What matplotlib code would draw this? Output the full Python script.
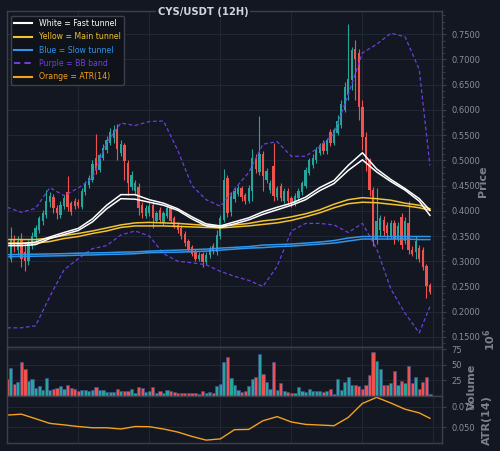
import numpy as np
import matplotlib.pyplot as plt
from matplotlib.lines import Line2D
from matplotlib.ticker import MultipleLocator, AutoMinorLocator, FormatStrFormatter

# candles (12H)
opens = [0.340, 0.305, 0.345, 0.322, 0.342, 0.318, 0.300, 0.330, 0.348, 0.362,
         0.380, 0.392, 0.418, 0.428, 0.405, 0.392, 0.410, 0.438, 0.415, 0.420,
         0.418, 0.408, 0.438, 0.452, 0.462, 0.505, 0.480, 0.505, 0.520, 0.535,
         0.545, 0.562, 0.515, 0.530, 0.495, 0.448, 0.440, 0.448, 0.412, 0.390,
         0.395, 0.412, 0.380, 0.402, 0.378, 0.390, 0.405, 0.385, 0.372, 0.366,
         0.354, 0.340, 0.328, 0.318, 0.304, 0.314, 0.298, 0.312, 0.330, 0.318,
         0.350, 0.382, 0.465, 0.398, 0.424, 0.434, 0.446, 0.432, 0.420, 0.440,
         0.505, 0.476, 0.512, 0.462, 0.442, 0.488, 0.428, 0.450, 0.420, 0.440,
         0.425, 0.415, 0.425, 0.438, 0.450, 0.475, 0.490, 0.500, 0.515, 0.535,
         0.518, 0.556, 0.535, 0.555, 0.570, 0.600, 0.630, 0.660, 0.720, 0.712,
         0.605, 0.546, 0.500, 0.442, 0.342, 0.362, 0.382, 0.372, 0.350, 0.376,
         0.345, 0.388, 0.340, 0.375, 0.322, 0.318, 0.326, 0.322, 0.290, 0.252]
highs = [0.352, 0.368, 0.352, 0.350, 0.356, 0.338, 0.342, 0.358, 0.372, 0.390,
         0.402, 0.442, 0.438, 0.434, 0.412, 0.420, 0.432, 0.468, 0.420, 0.426,
         0.424, 0.445, 0.460, 0.470, 0.500, 0.553, 0.515, 0.532, 0.548, 0.565,
         0.570, 0.572, 0.540, 0.535, 0.500, 0.478, 0.462, 0.456, 0.418, 0.412,
         0.418, 0.418, 0.400, 0.408, 0.400, 0.412, 0.410, 0.390, 0.378, 0.372,
         0.360, 0.345, 0.333, 0.324, 0.318, 0.318, 0.318, 0.330, 0.336, 0.362,
         0.392, 0.482, 0.470, 0.438, 0.448, 0.452, 0.450, 0.436, 0.452, 0.522,
         0.512, 0.588, 0.518, 0.485, 0.462, 0.534, 0.450, 0.455, 0.445, 0.445,
         0.430, 0.436, 0.446, 0.460, 0.486, 0.505, 0.512, 0.526, 0.535, 0.540,
         0.545, 0.562, 0.565, 0.590, 0.620, 0.655, 0.770, 0.725, 0.738, 0.720,
         0.620, 0.556, 0.505, 0.448, 0.445, 0.392, 0.390, 0.378, 0.382, 0.382,
         0.378, 0.395, 0.388, 0.420, 0.330, 0.350, 0.332, 0.328, 0.295, 0.256]
lows = [0.305, 0.298, 0.318, 0.312, 0.288, 0.280, 0.292, 0.324, 0.340, 0.355,
        0.372, 0.386, 0.408, 0.396, 0.384, 0.386, 0.404, 0.400, 0.392, 0.404,
        0.405, 0.404, 0.432, 0.446, 0.458, 0.472, 0.476, 0.500, 0.515, 0.530,
        0.535, 0.500, 0.508, 0.462, 0.432, 0.442, 0.432, 0.392, 0.386, 0.385,
        0.390, 0.365, 0.375, 0.375, 0.372, 0.386, 0.376, 0.365, 0.355, 0.345,
        0.330, 0.318, 0.310, 0.300, 0.300, 0.288, 0.292, 0.306, 0.314, 0.312,
        0.345, 0.378, 0.388, 0.390, 0.418, 0.430, 0.420, 0.414, 0.416, 0.420,
        0.474, 0.470, 0.440, 0.455, 0.436, 0.420, 0.422, 0.420, 0.415, 0.414,
        0.408, 0.410, 0.420, 0.432, 0.446, 0.470, 0.485, 0.495, 0.510, 0.512,
        0.512, 0.528, 0.530, 0.550, 0.565, 0.595, 0.620, 0.640, 0.620, 0.580,
        0.520, 0.478, 0.430, 0.330, 0.335, 0.350, 0.350, 0.345, 0.345, 0.335,
        0.340, 0.325, 0.335, 0.315, 0.310, 0.305, 0.298, 0.282, 0.228, 0.236]
closes = [0.318, 0.345, 0.330, 0.340, 0.305, 0.300, 0.335, 0.350, 0.365, 0.385,
          0.395, 0.420, 0.430, 0.405, 0.395, 0.412, 0.425, 0.408, 0.398, 0.410,
          0.410, 0.440, 0.455, 0.465, 0.492, 0.480, 0.510, 0.525, 0.540, 0.556,
          0.560, 0.522, 0.532, 0.498, 0.455, 0.470, 0.455, 0.405, 0.395, 0.405,
          0.410, 0.385, 0.395, 0.382, 0.395, 0.405, 0.380, 0.370, 0.362, 0.350,
          0.336, 0.325, 0.315, 0.305, 0.312, 0.298, 0.312, 0.325, 0.320, 0.352,
          0.385, 0.462, 0.395, 0.430, 0.440, 0.446, 0.428, 0.420, 0.446, 0.505,
          0.482, 0.512, 0.468, 0.478, 0.456, 0.430, 0.445, 0.425, 0.440, 0.420,
          0.415, 0.430, 0.440, 0.455, 0.480, 0.500, 0.505, 0.520, 0.530, 0.518,
          0.540, 0.535, 0.560, 0.578, 0.612, 0.646, 0.662, 0.718, 0.700, 0.605,
          0.546, 0.500, 0.442, 0.340, 0.380, 0.385, 0.360, 0.355, 0.375, 0.345,
          0.370, 0.332, 0.380, 0.322, 0.315, 0.340, 0.305, 0.288, 0.250, 0.240]
volume = [27, 45, 19, 23, 54, 43, 24.5, 27, 13, 16.5,
          10, 29, 9, 12, 13, 15.5, 12, 18, 13, 11,
          7.5, 10, 10, 8.6, 9, 14.5, 10, 9, 6.5, 6.5,
          6.5, 11, 7.5, 7.5, 7.5, 11, 5, 14, 13, 6,
          7.5, 14, 5, 7.5, 5, 9, 7.5, 6, 5, 5,
          5, 4.3, 4.3, 4.3, 3, 7.5, 4.3, 6, 4.3, 15.5,
          19.7, 55, 62, 29, 18, 9, 6, 7.5, 15.5, 27,
          30, 67, 35, 23, 11, 54, 10, 21, 7.5, 6,
          5, 4, 14, 7.5, 6, 11, 7.5, 7.5, 7.5, 6.5,
          7.5, 12, 3, 27, 9, 22, 30, 17, 17, 15.5,
          11, 17, 34, 70, 57, 43, 17, 18, 21, 40,
          17, 24.5, 21, 48, 21, 31, 11, 23, 30, 3]

# indicator lines, read every 4th candle
line_idx = [0, 4, 8, 12, 16, 20, 24, 28, 32, 36, 40, 44, 48, 52, 56, 60,
            64, 68, 72, 76, 80, 84, 88, 92, 96, 100, 104, 108, 112, 116, 119]
fast_hi = [0.335, 0.335, 0.338, 0.348, 0.357, 0.365, 0.384, 0.411, 0.432, 0.432, 0.422,
           0.415, 0.404, 0.388, 0.374, 0.370, 0.378, 0.386, 0.398, 0.407, 0.415,
           0.427, 0.446, 0.460, 0.490, 0.515, 0.483, 0.462, 0.444, 0.424, 0.401]
fast_lo = [0.331, 0.331, 0.333, 0.345, 0.353, 0.361, 0.378, 0.404, 0.424, 0.423, 0.417,
           0.411, 0.401, 0.384, 0.370, 0.367, 0.374, 0.382, 0.393, 0.402, 0.411,
           0.422, 0.440, 0.454, 0.480, 0.501, 0.477, 0.458, 0.441, 0.419, 0.391]
main_hi = [0.343, 0.343, 0.343, 0.346, 0.351, 0.355, 0.360, 0.366, 0.372, 0.376, 0.377,
           0.376, 0.375, 0.373, 0.371, 0.370, 0.372, 0.375, 0.380, 0.383, 0.388,
           0.394, 0.402, 0.413, 0.422, 0.426, 0.424, 0.421, 0.415, 0.411, 0.404]
main_lo = [0.336, 0.336, 0.336, 0.339, 0.345, 0.349, 0.355, 0.360, 0.367, 0.370, 0.370,
           0.370, 0.369, 0.368, 0.367, 0.366, 0.368, 0.370, 0.373, 0.376, 0.381,
           0.388, 0.396, 0.406, 0.414, 0.417, 0.416, 0.413, 0.410, 0.406, 0.401]
slow_hi = [0.313, 0.3135, 0.314, 0.3145, 0.315, 0.316, 0.3165, 0.317, 0.318, 0.3185, 0.320,
           0.321, 0.322, 0.323, 0.324, 0.326, 0.3275, 0.329, 0.332, 0.333, 0.334,
           0.336, 0.338, 0.341, 0.346, 0.349, 0.349, 0.349, 0.349, 0.349, 0.349]
slow_lo = [0.309, 0.3095, 0.310, 0.3105, 0.311, 0.312, 0.3125, 0.3135, 0.314, 0.315, 0.317,
           0.3175, 0.318, 0.319, 0.320, 0.322, 0.324, 0.326, 0.327, 0.329, 0.330,
           0.332, 0.334, 0.336, 0.340, 0.344, 0.344, 0.344, 0.344, 0.343, 0.343]
bb_up = [0.407, 0.397, 0.405, 0.446, 0.430, 0.445, 0.465, 0.535, 0.574, 0.569, 0.577,
         0.578, 0.520, 0.450, 0.422, 0.409, 0.443, 0.476, 0.532, 0.537, 0.508,
         0.508, 0.527, 0.553, 0.630, 0.713, 0.730, 0.752, 0.745, 0.680, 0.490]
bb_lo = [0.168, 0.168, 0.172, 0.230, 0.283, 0.305, 0.325, 0.331, 0.352, 0.360, 0.350,
         0.315, 0.300, 0.297, 0.293, 0.280, 0.270, 0.262, 0.250, 0.290, 0.360,
         0.375, 0.375, 0.372, 0.357, 0.375, 0.325, 0.245, 0.197, 0.158, 0.210]
atr = [0.0649, 0.066, 0.0605, 0.0548, 0.053, 0.051, 0.0495, 0.0495, 0.048, 0.051, 0.0508,
       0.048, 0.0443, 0.039, 0.0345, 0.036, 0.0472, 0.0475, 0.058, 0.063, 0.0565,
       0.0536, 0.0528, 0.052, 0.062, 0.079, 0.0864, 0.0795, 0.072, 0.0675, 0.061]

BG = '#131722'
GRID = '#222734'
SPINE = '#3b404c'
TXT = '#8a8e98'
UP = '#26a69a'
DN = '#ef5350'
C_FAST = '#ffffff'
C_MAIN = '#f2c230'
C_SLOW = '#2f95ec'
C_BB = '#6a3fe0'
C_ATR = '#f5a11f'

o = np.array(opens)
h = np.array(highs)
l = np.array(lows)
c = np.array(closes)
x = np.arange(len(o))
cols = np.where(c >= o, UP, DN)

fig = plt.figure(figsize=(5, 4.51), dpi=100, facecolor=BG)
ax = fig.add_axes([0.014, 0.2306, 0.87, 0.745])
axv = fig.add_axes([0.014, 0.122, 0.87, 0.1086], sharex=ax)
axa = fig.add_axes([0.014, 0.0177, 0.87, 0.1042], sharex=ax)

for a in (ax, axv, axa):
    a.set_facecolor(BG)
    a.grid(True, color=GRID, lw=0.7)
    a.set_axisbelow(True)
    for s in a.spines.values():
        s.set_color(SPINE)
        s.set_linewidth(1.0)
    a.yaxis.tick_right()
    a.tick_params(axis='y', colors=SPINE, labelcolor=TXT, labelsize=6, length=3)
    a.tick_params(axis='x', length=0, labelbottom=False)

# candles
ax.vlines(x, l, h, colors=cols, lw=0.8)
ax.bar(x, np.maximum(np.abs(c - o), 0.002), bottom=np.minimum(o, c),
       width=0.65, color=cols, linewidth=0)

# tunnels and bands
ax.plot(line_idx, bb_up, color=C_BB, lw=0.9, dashes=(3, 2))
ax.plot(line_idx, bb_lo, color=C_BB, lw=0.9, dashes=(3, 2))
for hi, lo, col in [(slow_hi, slow_lo, C_SLOW), (main_hi, main_lo, C_MAIN),
                    (fast_hi, fast_lo, C_FAST)]:
    ax.plot(line_idx, hi, color=col, lw=1.1)
    ax.plot(line_idx, lo, color=col, lw=1.1)

ax.set_xlim(-0.05, 122.4)
ax.set_ylim(0.130, 0.796)
ax.xaxis.set_major_locator(MultipleLocator(20))
ax.yaxis.set_major_locator(MultipleLocator(0.05))
ax.yaxis.set_minor_locator(AutoMinorLocator(4))
ax.tick_params(axis='y', which='minor', colors=SPINE, length=2)
ax.yaxis.set_major_formatter(FormatStrFormatter('%.4f'))

# volume
axv.bar(x, volume, width=0.9, color=cols, edgecolor='#3f4f8c', linewidth=0.5)
axv.set_ylim(0, 78.7)
axv.set_yticks([25, 50, 75])
axv.yaxis.set_major_formatter(FormatStrFormatter('%d'))

# ATR
axa.plot(line_idx, atr, color=C_ATR, lw=1.0)
axa.set_ylim(0.031, 0.088)
axa.set_yticks([0.050, 0.075])
axa.yaxis.set_major_formatter(FormatStrFormatter('%.3f'))

# legend
handles = [Line2D([], [], color=C_FAST, lw=1.5),
           Line2D([], [], color=C_MAIN, lw=1.5),
           Line2D([], [], color=C_SLOW, lw=1.5),
           Line2D([], [], color=C_BB, lw=1.5, dashes=(3, 2)),
           Line2D([], [], color=C_ATR, lw=1.5)]
labels = ['White = Fast tunnel', 'Yellow = Main tunnel', 'Blue = Slow tunnel',
          'Purple = BB band', 'Orange = ATR(14)']
leg = ax.legend(handles, labels, loc='upper left', bbox_to_anchor=(0.009, 0.986),
                borderaxespad=0, fontsize=5.6, facecolor='#0f1219', edgecolor=SPINE,
                framealpha=1, labelcolor=[C_FAST, C_MAIN, C_SLOW, C_BB, C_ATR],
                handlelength=2.3, labelspacing=0.55, borderpad=0.45)

fig.text(203 / 500, 1 - 12 / 451, 'CYS/USDT (12H)', ha='center', va='center',
         fontsize=7.2, fontweight='bold', color='#d1d4dc',
         bbox=dict(facecolor=BG, edgecolor='none', pad=1))
fig.text(483 / 500, 1 - 181 / 451, 'Price', rotation=90, ha='center', va='center',
         fontsize=8, fontweight='bold', color='#7c808a')
fig.text(472 / 500, 1 - 387 / 451, 'Volume', rotation=90, ha='center', va='center',
         fontsize=8, fontweight='bold', color='#7c808a')
fig.text(490 / 500, 1 - 340 / 451, r'$\mathbf{10^{6}}$', rotation=90, ha='center',
         va='center', fontsize=8, color='#7c808a')
fig.text(487 / 500, 1 - 420 / 451, 'ATR(14)', rotation=90, ha='center', va='center',
         fontsize=8, fontweight='bold', color='#7c808a')

fig.savefig('out.png', dpi=100, facecolor=BG)
